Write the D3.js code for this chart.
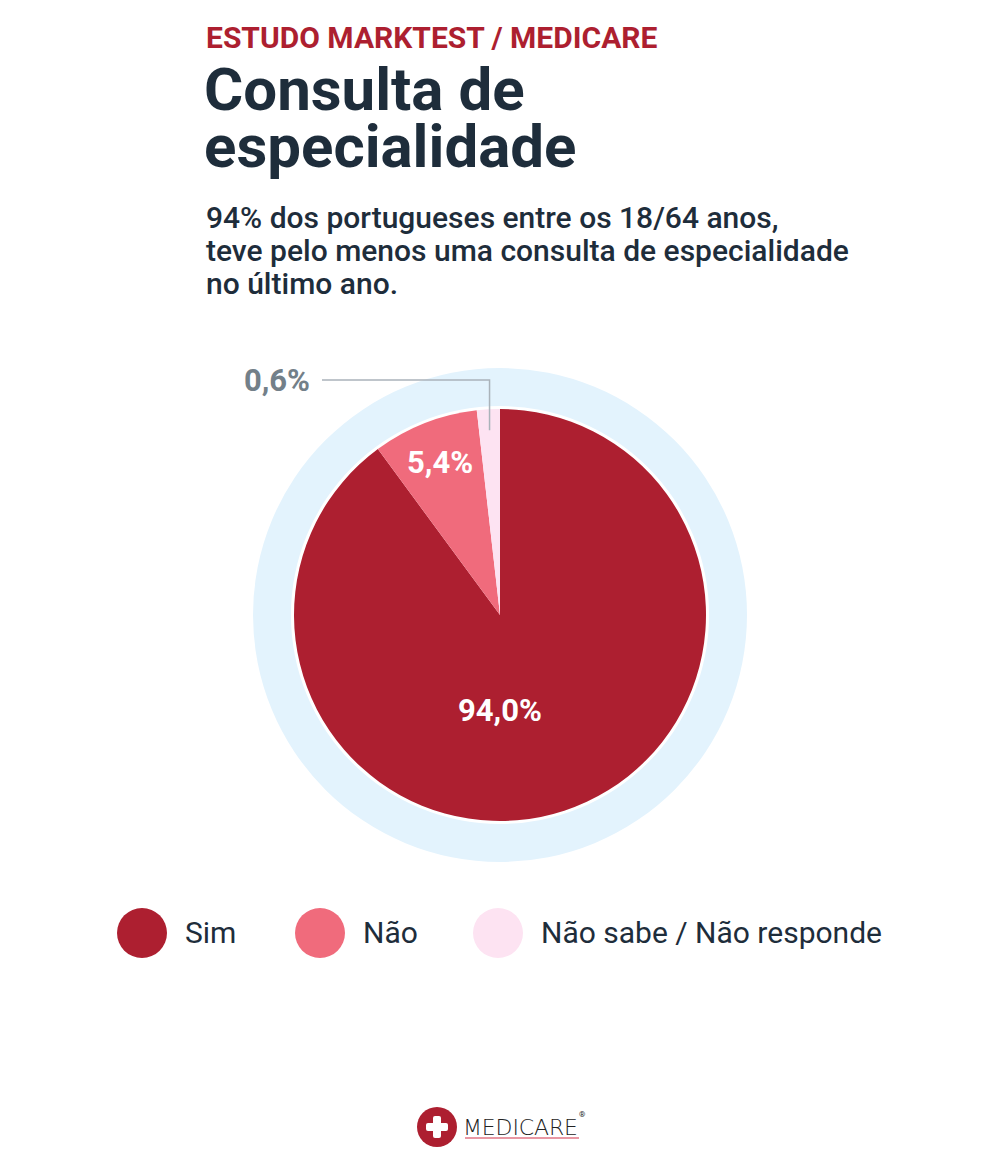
<!DOCTYPE html>
<html>
<head>
<meta charset="utf-8">
<script src="https://d3js.org/d3.v7.min.js"></script>
<style>
  body { margin:0; background:#fff; }
  text { font-family: Roboto, "Noto Sans", sans-serif; }
</style>
</head>
<body>
<svg width="1000" height="1167"></svg>
<script>
// categories and values
var categories = ["Sim", "Não", "Não sabe / Não responde"];
var labels = ["94,0%", "5,4%", "0,6%"];
// slice shares as drawn in the picture
var shares = [89.9, 8.3, 1.8];
var colors = ["#ad1f30", "#f06b7c", "#fde3f2"];

var subtitle = ["94% dos portugueses entre os 18/64 anos,",
                "teve pelo menos uma consulta de especialidade",
                "no último ano."];

var svg = d3.select("svg");
var dark = "#1e2d3b";

// header
svg.append("text").text("ESTUDO MARKTEST / MEDICARE")
    .attr("x", 206).attr("y", 48)
    .style("font-size", "30px").style("font-weight", "700")
    .attr("fill", "#ad1f30");

["Consulta de", "especialidade"].forEach(function(t, i) {
    svg.append("text").text(t)
        .attr("x", 204).attr("y", 110 + i * 57)
        .style("font-size", "60px").style("font-weight", "700")
        .attr("fill", dark);
});

subtitle.forEach(function(t, i) {
    svg.append("text").text(t)
        .attr("x", 206).attr("y", 228 + i * 33)
        .style("font-size", "30px").style("font-weight", "500")
        .attr("fill", dark);
});

// pie
var cx = 500, cy = 615;
var g = svg.append("g").attr("transform", "translate(" + cx + "," + cy + ")");

g.append("path")
    .attr("d", d3.arc().innerRadius(209).outerRadius(247).startAngle(0).endAngle(2 * Math.PI)())
    .attr("fill", "#e3f3fd");

var pie = d3.pie().sort(null).value(function(d) { return d; });
var arcs = pie(shares);
var arc = d3.arc().innerRadius(0).outerRadius(206);

g.selectAll("path.slice").data(arcs).enter().append("path")
    .attr("class", "slice")
    .attr("d", arc)
    .attr("fill", function(d, i) { return colors[i]; });

// 94,0% label
g.append("text").text(labels[0])
    .attr("x", 0).attr("y", 106)
    .attr("text-anchor", "middle")
    .style("font-size", "31px").style("font-weight", "700")
    .attr("fill", "#fff");

// 5,4% label at slice centroid
var labArc = d3.arc().innerRadius(164).outerRadius(164);
var c1 = labArc.centroid(arcs[1]);
g.append("text").text(labels[1])
    .attr("x", c1[0]).attr("y", c1[1] + 11)
    .attr("text-anchor", "middle")
    .style("font-size", "31px").style("font-weight", "700")
    .attr("fill", "#fff");

// 0,6% label with leader line
var c2 = d3.arc().innerRadius(185).outerRadius(185).centroid(arcs[2]);
var ly = -235;
g.append("path")
    .attr("d", "M" + (-178) + "," + ly + "H" + c2[0] + "V" + c2[1])
    .attr("fill", "none").attr("stroke", "#aab3ba").attr("stroke-width", 1.5);
g.append("text").text(labels[2])
    .attr("x", -190).attr("y", ly + 11)
    .attr("text-anchor", "end")
    .style("font-size", "31px").style("font-weight", "700")
    .attr("fill", "#738089");

// legend
var legX = [142, 320, 498];
categories.forEach(function(c, i) {
    svg.append("circle").attr("cx", legX[i]).attr("cy", 933).attr("r", 25)
        .attr("fill", colors[i]);
    svg.append("text").text(c)
        .attr("x", legX[i] + 43).attr("y", 943)
        .style("font-size", "30px").style("font-weight", "400")
        .attr("fill", dark);
});

// logo
var logo = svg.append("g").attr("transform", "translate(437,1127)");
logo.append("circle").attr("r", 20).attr("fill", "#ad1f30");
logo.append("rect").attr("x", -11).attr("y", -4).attr("width", 22).attr("height", 8).attr("rx", 2).attr("fill", "#fff");
logo.append("rect").attr("x", -4).attr("y", -11).attr("width", 8).attr("height", 22).attr("rx", 2).attr("fill", "#fff");
svg.append("text").text("MEDICARE")
    .attr("x", 463).attr("y", 1135)
    .attr("textLength", 115)
    .style("font-family", "'DejaVu Sans', sans-serif")
    .style("font-size", "22px").style("font-weight", "300")
    .attr("fill", "#222");
svg.append("line").attr("x1", 465).attr("x2", 579).attr("y1", 1138).attr("y2", 1138)
    .attr("stroke", "#e07585").attr("stroke-width", 1.5);
svg.append("text").text("®")
    .attr("x", 579).attr("y", 1117)
    .style("font-size", "8px").attr("fill", "#222");
</script>
</body>
</html>
